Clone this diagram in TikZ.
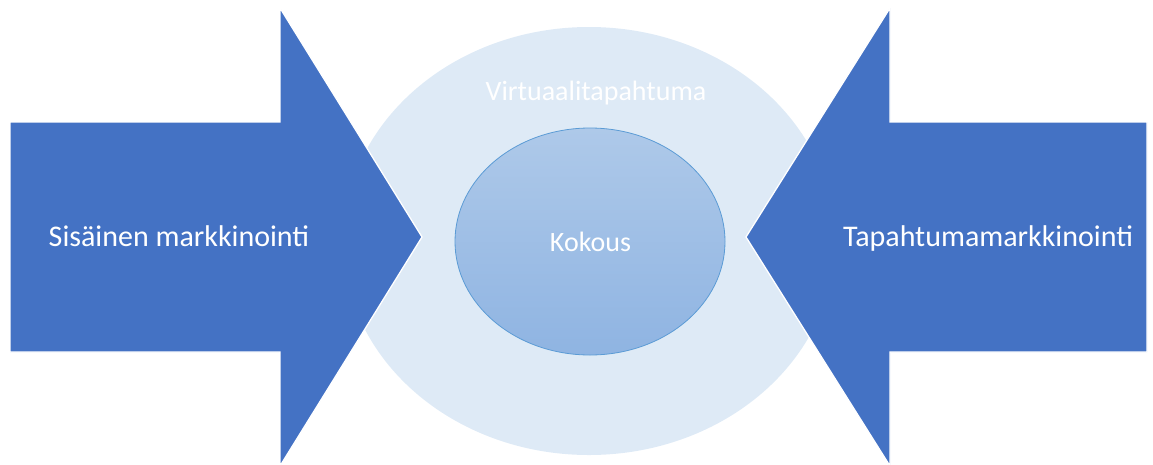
\documentclass[tikz,border=0pt]{standalone}
\usepackage{fontspec}
\setmainfont{Carlito}
\usepackage{xcolor}
\definecolor{ArrowBlue}{RGB}{68, 114, 196}
\definecolor{RingBlue}{RGB}{222, 234, 246}
\definecolor{CoreTop}{RGB}{174, 201, 233}
\definecolor{CoreBottom}{RGB}{143, 180, 226}
\definecolor{CoreEdge}{RGB}{91, 155, 213}
\usepackage{tikz}
\usetikzlibrary{shapes.geometric}

\begin{document}
\begin{tikzpicture}[
  x=1pt, y=-1pt,
  ringbox/.style={ellipse, fill=RingBlue, inner sep=0pt,
    minimum width=492pt, minimum height=428pt},
  corebox/.style={ellipse, top color=CoreTop, bottom color=CoreBottom,
    draw=CoreEdge, line width=0.8pt, inner sep=0pt,
    minimum width=270pt, minimum height=227pt},
  bigarrow/.style={fill=ArrowBlue, draw=white, line width=1.3pt},
  sidetext/.style={text=white, anchor=base, font=\fontsize{30}{36}\selectfont},
  midtext/.style={text=white, anchor=base, font=\fontsize{28}{34}\selectfont}
]
  \useasboundingbox (0,0) rectangle (1153,464);

  \node[ringbox] (ring) at (589,241) {};
  \node[corebox] (core) at (590,241.5) {};

  % arrows pointing in from both sides
  \draw[bigarrow] (10,122) -- (280,122) -- (280,8) -- (422,237)
    -- (280,466) -- (280,352) -- (10,352) -- cycle;
  \draw[bigarrow] (1147,122) -- (890,122) -- (890,8) -- (746,237)
    -- (890,466) -- (890,352) -- (1147,352) -- cycle;

  \node[sidetext] (inner)   at (179,246)   {Sisäinen markkinointi};
  \node[sidetext] (event)   at (988,246)   {Tapahtumamarkkinointi};
  \node[midtext]  (virtual) at (596,100)   {Virtuaalitapahtuma};
  \node[midtext]  (meeting) at (590.5,251) {Kokous};
\end{tikzpicture}
\end{document}
